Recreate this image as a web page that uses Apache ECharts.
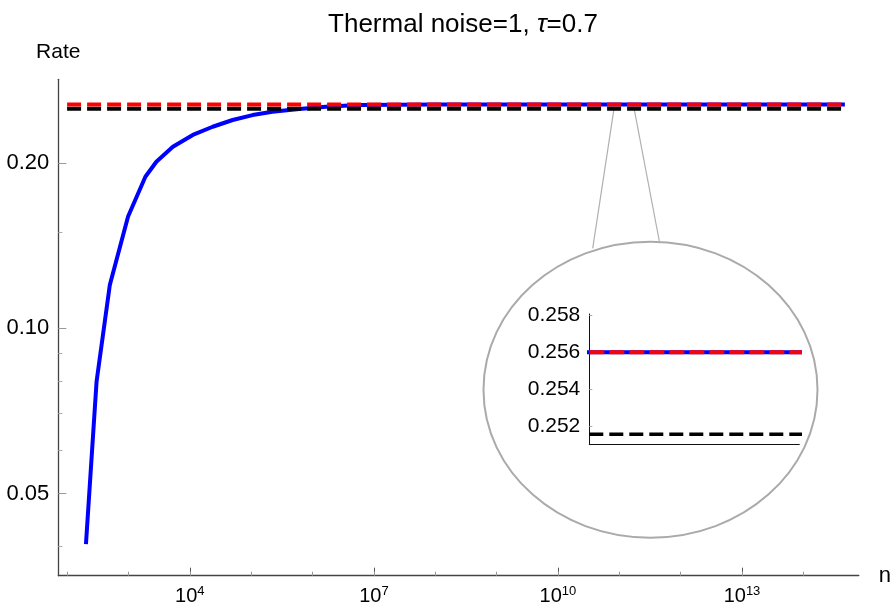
<!DOCTYPE html>
<html>
<head>
<meta charset="utf-8">
<script src="https://cdn.jsdelivr.net/npm/echarts@6/dist/echarts.min.js"></script>
<style>
html,body{margin:0;padding:0;background:#fff;}
#chart{width:894px;height:610px;}
</style>
</head>
<body>
<div id="chart"></div>
<script>
// ---- data ----
const nValues    = [203, 302, 497, 986, 1888, 2851, 5300, 11190, 23620, 49900, 105400, 222000, 604000, 1.85e6, 5.7e6, 1e8, 1e10, 1e12, 4.75e14];
const rateValues = [0.0404, 0.0799, 0.120, 0.160, 0.189, 0.2013, 0.2144, 0.2253, 0.2332, 0.2399, 0.2449, 0.2484, 0.2513, 0.2539, 0.2555, 0.256, 0.256, 0.256, 0.256];
const limitN     = [100, 4.75e14];
const redLimit   = 0.256;
const blackLimit = 0.2516;

const xMajorTicks = [1e4, 1e7, 1e10, 1e13];
const xMinorTicks = [1e2, 1e3, 1e4, 1e5, 1e6, 1e7, 1e8, 1e9, 1e10, 1e11, 1e12, 1e13, 1e14];
const yMajorTicks = [0.05, 0.10, 0.20];
const yMinorTicks = [0.04, 0.06, 0.07, 0.08, 0.09, 0.15];
const insetTicks  = [0.252, 0.254, 0.256, 0.258];
const zoomN       = [8.3e10, 1.72e11];
const zoomRate    = 0.2537;

const FONT = 'Liberation Sans';
const chart = echarts.init(document.getElementById('chart'), null, {renderer: 'canvas'});

const blueData  = nValues.map((n, i) => [n, rateValues[i]]);
const redData   = limitN.map(n => [n, redLimit]);
const blackData = limitN.map(n => [n, blackLimit]);

const option = {
  animation: false,
  backgroundColor: '#fff',
  title: {
    text: '{a|Thermal noise=1, }{i|τ}{a|=0.7}',
    left: 458, top: 7, textAlign: 'center',
    textStyle: {
      fontSize: 26, fontFamily: FONT, fontWeight: 'normal', color: '#000',
      rich: {
        a: {fontSize: 26, fontFamily: FONT, color: '#000'},
        i: {fontSize: 26, fontFamily: FONT, fontStyle: 'italic', color: '#000'}
      }
    }
  },
  grid: [
    {left: 58.3, right: 32, top: 79.3, bottom: 34.3},
    {left: 589.3, top: 314, width: 210, height: 130}
  ],
  xAxis: [
    {
      type: 'log', gridIndex: 0, position: 'bottom', min: 71.9, max: 8.0e14,
      name: 'n', nameLocation: 'end', nameGap: 20,
      nameTextStyle: {fontSize: 22, fontFamily: FONT, color: '#000'},
      axisLine: {onZero: false, lineStyle: {color: '#444', width: 1.3}},
      axisTick: {inside: true, length: 8, customValues: xMajorTicks, lineStyle: {color: '#555', width: 1}},
      axisLabel: {
        customValues: xMajorTicks, margin: 9,
        formatter: v => '{b|10}{s|' + Math.round(Math.log10(v)) + '}',
        rich: {
          b: {fontSize: 20, fontFamily: FONT, color: '#000', lineHeight: 24},
          s: {fontSize: 13, fontFamily: FONT, color: '#000', lineHeight: 13, verticalAlign: 'top'}
        }
      },
      splitLine: {show: false}, minorTick: {show: false}
    },
    {
      type: 'log', gridIndex: 0, position: 'bottom', min: 71.9, max: 8.0e14,
      axisLine: {show: false, onZero: false},
      axisTick: {inside: true, length: 4, customValues: xMinorTicks, lineStyle: {color: '#999', width: 1}},
      axisLabel: {show: false}, splitLine: {show: false}
    },
    {
      type: 'log', gridIndex: 1, min: 1e10, max: 1e11,
      axisLine: {onZero: false, lineStyle: {color: '#111', width: 1}},
      axisTick: {show: false}, axisLabel: {show: false}, splitLine: {show: false}
    }
  ],
  yAxis: [
    {
      type: 'log', gridIndex: 0, position: 'left', min: 0.0354, max: 0.2846,
      name: 'Rate', nameLocation: 'end', nameGap: 17,
      nameTextStyle: {fontSize: 21, fontFamily: FONT, color: '#000'},
      axisLine: {onZero: false, lineStyle: {color: '#444', width: 1.3}},
      axisTick: {inside: true, length: 8, customValues: yMajorTicks, lineStyle: {color: '#999', width: 1}},
      axisLabel: {
        customValues: yMajorTicks, margin: 9, fontSize: 22, fontFamily: FONT, color: '#000',
        formatter: v => v.toFixed(2)
      },
      splitLine: {show: false}, minorTick: {show: false}
    },
    {
      type: 'log', gridIndex: 0, position: 'left', min: 0.0354, max: 0.2846,
      axisLine: {show: false, onZero: false},
      axisTick: {inside: true, length: 4, customValues: yMinorTicks, lineStyle: {color: '#aaa', width: 1}},
      axisLabel: {show: false}, splitLine: {show: false}
    },
    {
      type: 'value', gridIndex: 1, min: 0.25107, max: 0.25805,
      axisLine: {show: true, onZero: false, lineStyle: {color: '#111', width: 1}},
      axisTick: {show: true, inside: true, length: 3, customValues: insetTicks, lineStyle: {color: '#aaa'}},
      axisLabel: {
        customValues: insetTicks, margin: 9, fontSize: 21, fontFamily: FONT, color: '#000',
        formatter: v => v.toFixed(3)
      },
      splitLine: {show: false}
    }
  ],
  series: [
    {type: 'line', xAxisIndex: 0, yAxisIndex: 0, data: blueData, showSymbol: false, symbol: 'none',
     lineStyle: {color: '#0000ff', width: 4}, z: 2},
    {type: 'line', xAxisIndex: 0, yAxisIndex: 0, data: blackData, symbol: 'none',
     lineStyle: {color: '#000', width: 4, type: [14, 6]}, z: 3},
    {type: 'line', xAxisIndex: 0, yAxisIndex: 0, data: redData, symbol: 'none',
     lineStyle: {color: '#ff0000', width: 4, type: [14, 6]}, z: 4},
    {type: 'line', xAxisIndex: 2, yAxisIndex: 2, data: blueData, symbol: 'none', clip: true,
     lineStyle: {color: '#0000ff', width: 4}, z: 2},
    {type: 'line', xAxisIndex: 2, yAxisIndex: 2, data: blackData, symbol: 'none', clip: true,
     lineStyle: {color: '#000', width: 3.5, type: [14, 6]}, z: 3},
    {type: 'line', xAxisIndex: 2, yAxisIndex: 2, data: redData, symbol: 'none', clip: true,
     lineStyle: {color: '#ff0000', width: 4, type: [15, 5]}, z: 4}
  ]
};
chart.setOption(option);

// zoom callout: ellipse + two connector lines anchored to the zoomed data region
const p1 = chart.convertToPixel({xAxisIndex: 0, yAxisIndex: 0}, [zoomN[0], zoomRate]);
const p2 = chart.convertToPixel({xAxisIndex: 0, yAxisIndex: 0}, [zoomN[1], zoomRate]);
chart.setOption({
  graphic: [
    {type: 'ellipse', shape: {cx: 650.5, cy: 389.7, rx: 167, ry: 148}, z: -10,
     style: {fill: 'none', stroke: '#aaaaaa', lineWidth: 2}},
    {type: 'line', shape: {x1: p1[0], y1: p1[1], x2: 592.7, y2: 248.3}, z: -10,
     style: {stroke: '#b0b0b0', lineWidth: 1.2}},
    {type: 'line', shape: {x1: p2[0], y1: p2[1], x2: 659.3, y2: 241}, z: -10,
     style: {stroke: '#b0b0b0', lineWidth: 1.2}}
  ]
});
</script>
</body>
</html>
